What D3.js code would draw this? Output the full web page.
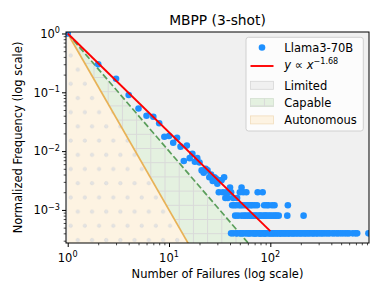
<!DOCTYPE html>
<html lang="en">
<head>
    <meta charset="utf-8">
    <title>MBPP (3-shot)</title>
    <script src="https://d3js.org/d3.v7.min.js"></script>
    <style>
        html,
        body {
            margin: 0;
            padding: 0;
            background: #fff;
        }

        svg text {
            font-family: "DejaVu Sans", sans-serif;
            fill: #000;
        }
    </style>
</head>
<body>
    <div id="chart"></div>
    <script>
        // ---- data ----
        // head of the distribution, one point per failure count
        var headFailures = [1, 2, 3, 4, 5, 6, 7, 8, 9, 10, 11, 12, 13, 14, 15,
            16, 17, 18, 19, 20, 21, 22, 23, 24, 25, 26, 27, 28, 29, 30];
        var headFrequency = [1, 0.30, 0.170, 0.090, 0.053, 0.040, 0.0385, 0.0297, 0.0176, 0.0181,
            0.0139, 0.0169, 0.0119, 0.0068, 0.0124, 0.0076, 0.0090, 0.0066, 0.0076, 0.0064,
            0.0047, 0.0043, 0.0050, 0.0047, 0.0036, 0.0040, 0.0031, 0.0036, 0.0034, 0.0028];

        // tail: failure counts sitting on the same few frequency levels
        var rowFrequency = [0.0004, 0.0008, 0.0012, 0.0016, 0.0020, 0.0024, 0.0032, 0.0036];
        var rowFailures = [
            [41, 43, 46, 47, 50, 51, 53, 54, 57, 59, 61, 62, 64, 67, 69, 70, 72, 73, 77, 78,
                80, 81, 83, 86, 87, 89, 90, 93, 97, 98, 101, 103, 106, 107, 111, 113, 117, 118,
                123, 125, 127, 131, 134, 138, 141, 145, 150, 152, 156, 162, 166, 170, 175, 181,
                186, 193, 198, 204, 211, 219, 224, 232, 240, 247, 259, 264, 273, 285, 291, 304,
                317, 326, 340, 356, 371, 385, 410, 428, 452, 470, 496, 520, 548, 575, 600, 650,
                690, 720, 930],
            [45, 48, 52, 55, 57, 60, 63, 65, 68, 71, 73, 77, 79, 82, 86, 89, 91, 95, 99, 103,
                108, 112, 116, 121, 147, 213],
            [42, 44, 46, 49, 51, 53, 56, 59, 61, 64, 66, 70, 74, 87, 92, 96, 104, 110, 149],
            [36, 38, 43, 47],
            [31, 34, 37, 39, 41, 50, 54, 58, 75, 84],
            [40, 52],
            [32, 33],
            [35]
        ];

        // power-law fit and the region boundaries (y = x^-slope)
        var fitSlope = 1.68;
        var fitRange = [1, 100];
        var regionNames = ["Limited", "Capable", "Autonomous"];
        var boundarySlopes = [2, 3];

        var xTicks = [1, 10, 100];
        var xTickExponents = ["0", "1", "2"];
        var yTicks = [1, 0.1, 0.01, 0.001];
        var yTickExponents = ["0", "\u22121", "\u22122", "\u22123"];

        // ---- layout ----
        var width = 382, height = 297;
        var plotLeft = 66, plotRight = 369, plotTop = 32, plotBottom = 243;

        var colors = {
            limited: "#f0f0f0",
            capable: "#e4f1e0",
            autonomous: "#fdf3e2",
            hatch: "#d9d9d9",
            green: "#5b9e5b",
            orange: "#e8b257",
            fit: "#ff0000",
            point: "#1e90ff"
        };

        var x = d3.scaleLog().domain([0.962, 942]).range([plotLeft, plotRight]);
        var y = d3.scaleLog().domain([2.74e-4, 1.06]).range([plotBottom, plotTop]);

        var svg = d3.select("#chart").append("svg")
            .attr("width", width)
            .attr("height", height);

        var defs = svg.append("defs");
        defs.append("clipPath").attr("id", "plot-clip")
            .append("rect")
            .attr("x", plotLeft).attr("y", plotTop)
            .attr("width", plotRight - plotLeft).attr("height", plotBottom - plotTop);

        // '+' hatch for the Capable band
        var step = 14.2;
        var grid = defs.append("pattern").attr("id", "hatch-grid")
            .attr("patternUnits", "userSpaceOnUse")
            .attr("x", 165 - step / 2).attr("y", 162.7 - step / 2)
            .attr("width", step).attr("height", step);
        grid.append("path")
            .attr("d", "M" + step / 2 + ",0V" + step + "M0," + step / 2 + "H" + step)
            .attr("stroke", colors.hatch)
            .attr("stroke-width", 1)
            .attr("fill", "none");

        // '.' hatch for the Autonomous band (staggered rows)
        var dots = defs.append("pattern").attr("id", "hatch-dots")
            .attr("patternUnits", "userSpaceOnUse")
            .attr("x", 70.7 - step / 4).attr("y", 169 - step / 4)
            .attr("width", step).attr("height", step * 2);
        [[step / 4, step / 4], [step * 3 / 4, step * 5 / 4]].forEach(function(p) {
            dots.append("circle")
                .attr("cx", p[0]).attr("cy", p[1]).attr("r", 1.7)
                .attr("fill", "#e3e3e3")
                .attr("stroke", "#d6d6d6")
                .attr("stroke-width", 0.6);
        });

        var plot = svg.append("g").attr("clip-path", "url(#plot-clip)");

        var xMin = x.domain()[0], xMax = x.domain()[1], yMin = y.domain()[0];
        var line = d3.line()
            .x(function(d) { return x(d[0]); })
            .y(function(d) { return y(d[1]); });

        function power(xv, s) {
            return Math.pow(xv, -s);
        }

        var capableArea = [[1, 1], [xMax, power(xMax, boundarySlopes[0])], [xMax, power(xMax, boundarySlopes[1])]];
        var autonomousArea = [[1, 1], [xMax, power(xMax, boundarySlopes[1])], [xMax, yMin], [1, yMin]];

        // background = Limited
        plot.append("rect")
            .attr("x", plotLeft).attr("y", plotTop)
            .attr("width", plotRight - plotLeft).attr("height", plotBottom - plotTop)
            .attr("fill", colors.limited);

        plot.append("path").attr("d", line(capableArea) + "Z").attr("fill", colors.capable);
        plot.append("path").attr("d", line(capableArea) + "Z").attr("fill", "url(#hatch-grid)");
        plot.append("path").attr("d", line(autonomousArea) + "Z").attr("fill", colors.autonomous);
        plot.append("path").attr("d", line(autonomousArea) + "Z").attr("fill", "url(#hatch-dots)");

        // boundary lines
        plot.append("path")
            .attr("d", line([[1, 1], [xMax, power(xMax, boundarySlopes[1])]]))
            .attr("stroke", colors.orange)
            .attr("stroke-width", 1.7)
            .attr("fill", "none");
        plot.append("path")
            .attr("d", line([[1, 1], [xMax, power(xMax, boundarySlopes[0])]]))
            .attr("stroke", colors.green)
            .attr("stroke-width", 1.7)
            .attr("stroke-dasharray", "6.3,2.7")
            .attr("fill", "none");

        // scatter points
        var points = headFailures.map(function(f, i) {
            return [f, headFrequency[i]];
        });
        rowFailures.forEach(function(row, i) {
            row.forEach(function(f) {
                points.push([f, rowFrequency[i]]);
            });
        });

        plot.append("g")
            .selectAll("circle")
            .data(points)
            .enter().append("circle")
            .attr("cx", function(d) { return x(d[0]); })
            .attr("cy", function(d) { return y(d[1]); })
            .attr("r", 3.3)
            .attr("fill", colors.point);

        // fitted power law, drawn over the points
        plot.append("path")
            .attr("d", line(fitRange.map(function(f) { return [f, power(f, fitSlope)]; })))
            .attr("stroke", colors.fit)
            .attr("stroke-width", 1.9)
            .attr("fill", "none");

        // ---- axes ----
        var xMinor = [], yMinor = [];
        [1, 10, 100].forEach(function(dec) {
            for (var k = 2; k <= 9; k++) {
                if (k * dec < xMax) xMinor.push(k * dec);
            }
        });
        [0.0001, 0.001, 0.01, 0.1].forEach(function(dec) {
            for (var k = 2; k <= 9; k++) {
                if (k * dec > yMin) yMinor.push(k * dec);
            }
        });

        function ticks(g, size, width) {
            g.select(".domain").remove();
            g.selectAll(".tick line").attr("stroke", "#000").attr("stroke-width", width);
        }

        svg.append("g")
            .attr("transform", "translate(0," + plotBottom + ")")
            .call(d3.axisBottom(x).tickValues(xTicks).tickSize(4).tickFormat(""))
            .call(ticks, 4, 1);
        svg.append("g")
            .attr("transform", "translate(0," + plotBottom + ")")
            .call(d3.axisBottom(x).tickValues(xMinor).tickSize(2.3).tickFormat(""))
            .call(ticks, 2.3, 0.7);
        svg.append("g")
            .attr("transform", "translate(" + plotLeft + ",0)")
            .call(d3.axisLeft(y).tickValues(yTicks).tickSize(4).tickFormat(""))
            .call(ticks, 4, 1);
        svg.append("g")
            .attr("transform", "translate(" + plotLeft + ",0)")
            .call(d3.axisLeft(y).tickValues(yMinor).tickSize(2.3).tickFormat(""))
            .call(ticks, 2.3, 0.7);

        // spines
        svg.append("rect")
            .attr("x", plotLeft).attr("y", plotTop)
            .attr("width", plotRight - plotLeft).attr("height", plotBottom - plotTop)
            .attr("fill", "none")
            .attr("stroke", "#000")
            .attr("stroke-width", 1);

        // tick labels as 10^n
        var xLabels = svg.append("g").selectAll("text")
            .data(xTicks)
            .enter().append("text")
            .attr("x", function(d) { return x(d); })
            .attr("y", 261.5)
            .attr("text-anchor", "middle")
            .attr("font-size", 11.5);
        xLabels.append("tspan").text("10");
        xLabels.append("tspan")
            .attr("dy", -4.6)
            .attr("font-size", 8.1)
            .text(function(d, i) { return xTickExponents[i]; });

        var yLabels = svg.append("g").selectAll("text")
            .data(yTicks)
            .enter().append("text")
            .attr("x", 60)
            .attr("y", function(d) { return y(d) + 4.2; })
            .attr("text-anchor", "end")
            .attr("font-size", 11.5);
        yLabels.append("tspan").text("10");
        yLabels.append("tspan")
            .attr("dy", -4.6)
            .attr("font-size", 8.1)
            .text(function(d, i) { return yTickExponents[i]; });

        // titles
        svg.append("text")
            .attr("x", (plotLeft + plotRight) / 2)
            .attr("y", 25)
            .attr("text-anchor", "middle")
            .attr("font-size", 13.8)
            .text("MBPP (3-shot)");
        svg.append("text")
            .attr("x", (plotLeft + plotRight) / 2)
            .attr("y", 277.5)
            .attr("text-anchor", "middle")
            .attr("font-size", 11.5)
            .text("Number of Failures (log scale)");
        svg.append("text")
            .attr("transform", "translate(21.5," + (plotTop + plotBottom) / 2 + ") rotate(-90)")
            .attr("text-anchor", "middle")
            .attr("font-size", 11.5)
            .text("Normalized Frequency (log scale)");

        // ---- legend ----
        var legend = svg.append("g");
        legend.append("rect")
            .attr("x", 246).attr("y", 37.3)
            .attr("width", 117.3).attr("height", 93.7)
            .attr("rx", 2.5)
            .attr("fill", "#fff").attr("fill-opacity", 0.8)
            .attr("stroke", "#cccccc").attr("stroke-width", 0.9);

        var rowY = [47.5, 66, 85.3, 102.6, 119.9];
        var handleX = 250.5, handleW = 23, textX = 284.3;

        legend.append("circle")
            .attr("cx", handleX + handleW / 2).attr("cy", rowY[0]).attr("r", 3.3)
            .attr("fill", colors.point);
        legend.append("line")
            .attr("x1", handleX).attr("x2", handleX + handleW)
            .attr("y1", rowY[1]).attr("y2", rowY[1])
            .attr("stroke", colors.fit).attr("stroke-width", 1.9);

        var patchFill = [colors.limited, colors.capable, colors.autonomous];
        var patchHatch = [null, "url(#hatch-grid)", "url(#hatch-dots)"];
        var patchEdge = ["#d6d6d6", "#d3dfcf", "#f1dcbc"];
        regionNames.forEach(function(name, i) {
            var cy = rowY[i + 2];
            legend.append("rect")
                .attr("x", handleX).attr("y", cy - 4)
                .attr("width", handleW).attr("height", 8)
                .attr("fill", patchFill[i])
                .attr("stroke", patchEdge[i]).attr("stroke-width", 0.8);
            if (patchHatch[i]) {
                legend.append("rect")
                    .attr("x", handleX).attr("y", cy - 4)
                    .attr("width", handleW).attr("height", 8)
                    .attr("fill", patchHatch[i]);
            }
            legend.append("text")
                .attr("x", textX).attr("y", cy + 4.2)
                .attr("font-size", 11.5)
                .text(name);
        });

        legend.append("text")
            .attr("x", textX).attr("y", rowY[0] + 4.2)
            .attr("font-size", 11.5)
            .text("Llama3-70B");

        var fitLabel = legend.append("text")
            .attr("x", textX).attr("y", rowY[1] + 2.5)
            .attr("font-size", 11.5);
        fitLabel.append("tspan").attr("font-style", "italic").text("y");
        fitLabel.append("tspan").text(" \u221d ");
        fitLabel.append("tspan").attr("font-style", "italic").text("x");
        fitLabel.append("tspan")
            .attr("dy", -5)
            .attr("font-size", 8.1)
            .text("\u2212" + fitSlope.toFixed(2));
    </script>
</body>
</html>
